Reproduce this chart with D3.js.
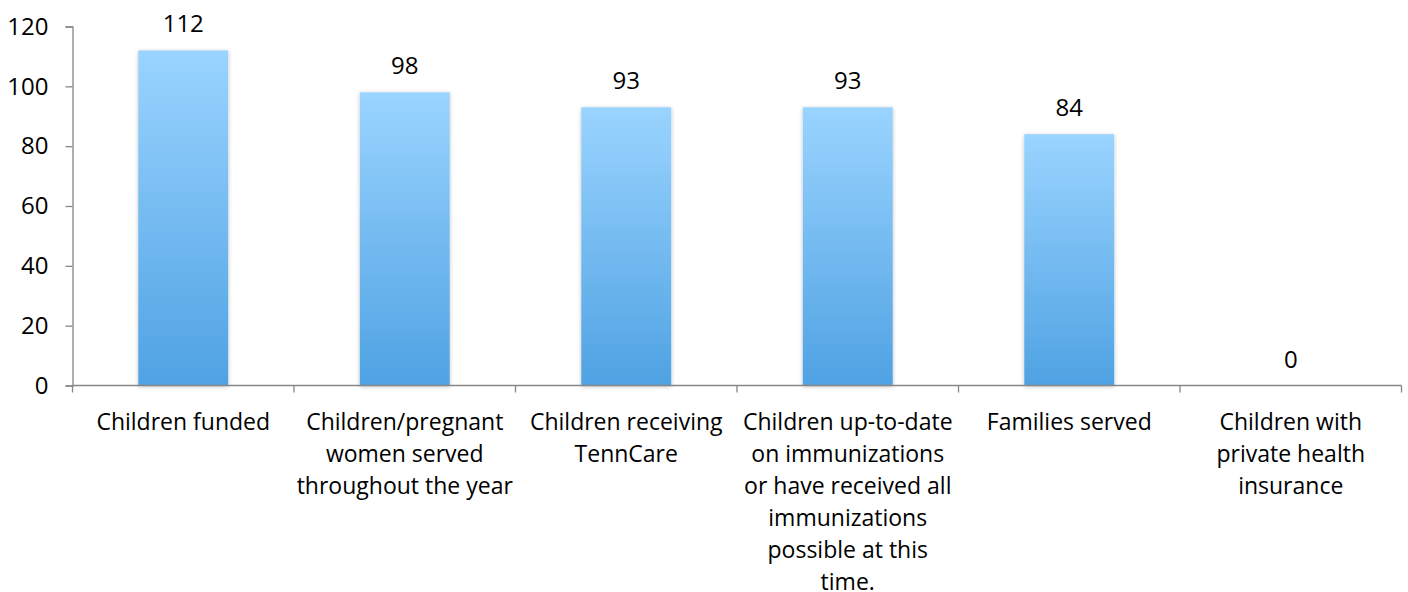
<!DOCTYPE html>
<html><head><meta charset="utf-8">
<script src="https://cdn.jsdelivr.net/npm/d3@7"></script>
<style>body{margin:0;background:#fff}svg{display:block}</style>
</head><body>
<svg id="c" width="1408" height="592"></svg>
<script>
const categories = [
  ["Children funded"],
  ["Children/pregnant","women served","throughout the year"],
  ["Children receiving","TennCare"],
  ["Children up-to-date","on immunizations","or have received all","immunizations","possible at this","time."],
  ["Families served"],
  ["Children with","private health","insurance"]
];
const values = [112, 98, 93, 93, 84, 0];
const yTicks = [0, 20, 40, 60, 80, 100, 120];

(function(){
const svg = d3.select("#c");
const mLeft = 72.5, mRight = 1401.5, mTop = 26.5, mBottom = 385.5;
const font = "'Open Sans', sans-serif";
const fs = 23, fsNum = 24;

const x = d3.scaleBand().domain(d3.range(categories.length)).range([mLeft, mRight]).paddingInner(0.594).paddingOuter(0.297);
const xOuter = d3.scaleBand().domain(d3.range(categories.length)).range([mLeft, mRight]);
const y = d3.scaleLinear().domain([0, 120]).range([mBottom, mTop]);

const defs = svg.append("defs");
const g = defs.append("linearGradient").attr("id","bg").attr("x1",0).attr("y1",0).attr("x2",0).attr("y2",1);
g.append("stop").attr("offset","0%").attr("stop-color","#9ad4ff");
g.append("stop").attr("offset","100%").attr("stop-color","#4fa2e3");
const f = defs.append("filter").attr("id","sh").attr("x","-20%").attr("y","-20%").attr("width","140%").attr("height","140%");
f.append("feGaussianBlur").attr("in","SourceAlpha").attr("stdDeviation",2).attr("result","b");
f.append("feOffset").attr("in","b").attr("dx",0).attr("dy",1).attr("result","o");
f.append("feComponentTransfer").attr("in","o").attr("result","o2").append("feFuncA").attr("type","linear").attr("slope",0.25);
const mg = f.append("feMerge"); mg.append("feMergeNode").attr("in","o2"); mg.append("feMergeNode").attr("in","SourceGraphic");

svg.append("g").selectAll("rect").data(values).join("rect")
  .attr("x",(d,i)=>x(i)).attr("width",x.bandwidth())
  .attr("y",d=>y(d)).attr("height",d=>y(0)-y(d))
  .attr("fill","url(#bg)").attr("filter","url(#sh)");

svg.append("g").selectAll("text").data(values).join("text")
  .attr("x",(d,i)=>x(i)+x.bandwidth()/2).attr("y",d=>y(d)-18)
  .attr("text-anchor","middle").attr("font-family",font).attr("font-size",fsNum).attr("fill","#000")
  .text(d=>d);

const ya = svg.append("g").attr("transform",`translate(${mLeft},0)`)
  .call(d3.axisLeft(y).tickValues(yTicks).tickSize(7).tickPadding(17));
ya.selectAll("path,line").attr("stroke","#868686").attr("stroke-width",1.3);
ya.selectAll("text").attr("font-family",font).attr("font-size",fsNum).attr("fill","#000");

const xa = svg.append("g");
xa.append("line").attr("x1",mLeft).attr("x2",mRight).attr("y1",mBottom).attr("y2",mBottom).attr("stroke","#868686").attr("stroke-width",1.3);
xa.selectAll("line.t").data(d3.range(categories.length+1)).join("line").attr("class","t")
  .attr("x1",i=>i<categories.length?xOuter(i):mRight).attr("x2",i=>i<categories.length?xOuter(i):mRight)
  .attr("y1",mBottom).attr("y2",mBottom+7).attr("stroke","#868686").attr("stroke-width",1.3);

const cl = svg.append("g").selectAll("text").data(categories).join("text")
  .attr("text-anchor","middle").attr("font-family",font).attr("font-size",fs).attr("fill","#000")
  .attr("x",(d,i)=>xOuter(i)+xOuter.bandwidth()/2).attr("y",429.5);
cl.selectAll("tspan").data(d=>d).join("tspan")
  .attr("x",function(){return this.parentNode.getAttribute("x");})
  .attr("dy",(d,i)=>i===0?0:32).text(d=>d);
})();
</script>
</body></html>
